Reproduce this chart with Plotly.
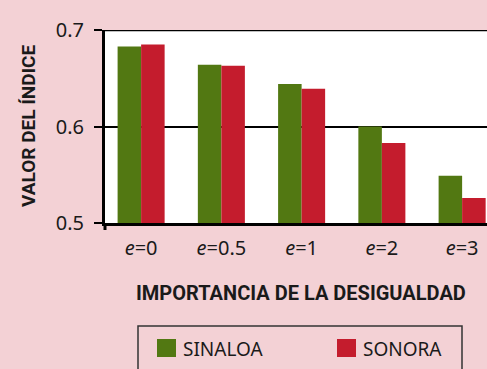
import plotly.graph_objects as go

# Index values by inequality-aversion parameter e
categories = ["e=0", "e=0.5", "e=1", "e=2", "e=3"]
tick_labels = ["<i>e</i>=0", "<i>e</i>=0.5", "<i>e</i>=1", "<i>e</i>=2", "<i>e</i>=3"]
sinaloa = [0.683, 0.664, 0.644, 0.600, 0.549]
sonora = [0.685, 0.663, 0.639, 0.583, 0.526]
y_ticks = [0.5, 0.6, 0.7]

GREEN = "#527812"
RED = "#c41c2d"
BG = "#f3d1d5"
INK = "#1a1a1a"

W, H = 487, 369
L, R, T, B = 105, 0, 30, 146
plot_w = W - L - R
plot_h = H - T - B


def px(x):
    """Horizontal pixel -> paper coordinate."""
    return (x - L) / plot_w


def py(y):
    """Vertical pixel (from top) -> paper coordinate."""
    return (H - B - y) / plot_h


fig = go.Figure()
fig.add_bar(x=categories, y=sinaloa, name="SINALOA", marker_color=GREEN,
            marker_line_width=0, showlegend=False)
fig.add_bar(x=categories, y=sonora, name="SONORA", marker_color=RED,
            marker_line_width=0, showlegend=False)

fig.update_layout(
    width=W, height=H,
    margin=dict(l=L, r=R, t=T, b=B),
    paper_bgcolor=BG, plot_bgcolor="white",
    barmode="group", bargap=0.414, bargroupgap=0,
    font=dict(family="Noto Sans", size=20, color=INK),
)

fig.update_xaxes(
    type="category", range=[-0.45, 4.31],
    tickvals=categories, ticktext=tick_labels,
    showline=True, linecolor="black", linewidth=2.5,
    ticks="", showgrid=False, ticklabelstandoff=5,
    tickfont=dict(size=20, color=INK),
)
fig.update_yaxes(
    range=[0.5, 0.7], tickvals=y_ticks, ticktext=["0.5", "0.6", "0.7"],
    showline=True, linecolor="black", linewidth=3,
    ticks="outside", ticklen=8, tickwidth=2, tickcolor="black",
    showgrid=True, gridcolor="black", gridwidth=2,
    zeroline=False, ticklabelstandoff=6,
    tickfont=dict(size=20, color=INK),
)

# Top gridline at the upper end of the range
fig.add_shape(type="line", xref="paper", yref="y", x0=0, x1=1,
              y0=y_ticks[-1], y1=y_ticks[-1],
              line=dict(color="black", width=2.5), layer="above")

# Small downward stub of the axis at the origin
fig.add_shape(type="line", xref="paper", yref="paper",
              x0=0, x1=0, y0=py(223), y1=py(230),
              line=dict(color="black", width=3))

# Axis titles
fig.add_annotation(text="VALOR DEL ÍNDICE", xref="paper", yref="paper",
                   x=px(28), y=py(126), textangle=-90, showarrow=False,
                   xanchor="center", yanchor="middle",
                   font=dict(family="Roboto", size=19, color=INK, weight=700))
fig.add_annotation(text="IMPORTANCIA DE LA DESIGUALDAD", xref="paper", yref="paper",
                   x=px(300.5), y=py(292.5), showarrow=False,
                   xanchor="center", yanchor="middle",
                   font=dict(family="Roboto", size=20, color=INK, weight=700))

# Legend box with swatches
fig.add_shape(type="rect", xref="paper", yref="paper",
              x0=px(138), x1=px(462), y0=py(326), y1=py(385),
              line=dict(color="#333333", width=1.5), fillcolor="rgba(0,0,0,0)")
for name, color, left in [("SINALOA", GREEN, 157), ("SONORA", RED, 337)]:
    fig.add_shape(type="rect", xref="paper", yref="paper",
                  x0=px(left), x1=px(left + 19), y0=py(339), y1=py(357),
                  line=dict(width=0), fillcolor=color)
    fig.add_annotation(text=name, xref="paper", yref="paper",
                       x=px(left + 24), y=py(349), showarrow=False,
                       xanchor="left", yanchor="middle",
                       font=dict(family="Noto Sans", size=19, color=INK))

fig.write_html("out.html")
